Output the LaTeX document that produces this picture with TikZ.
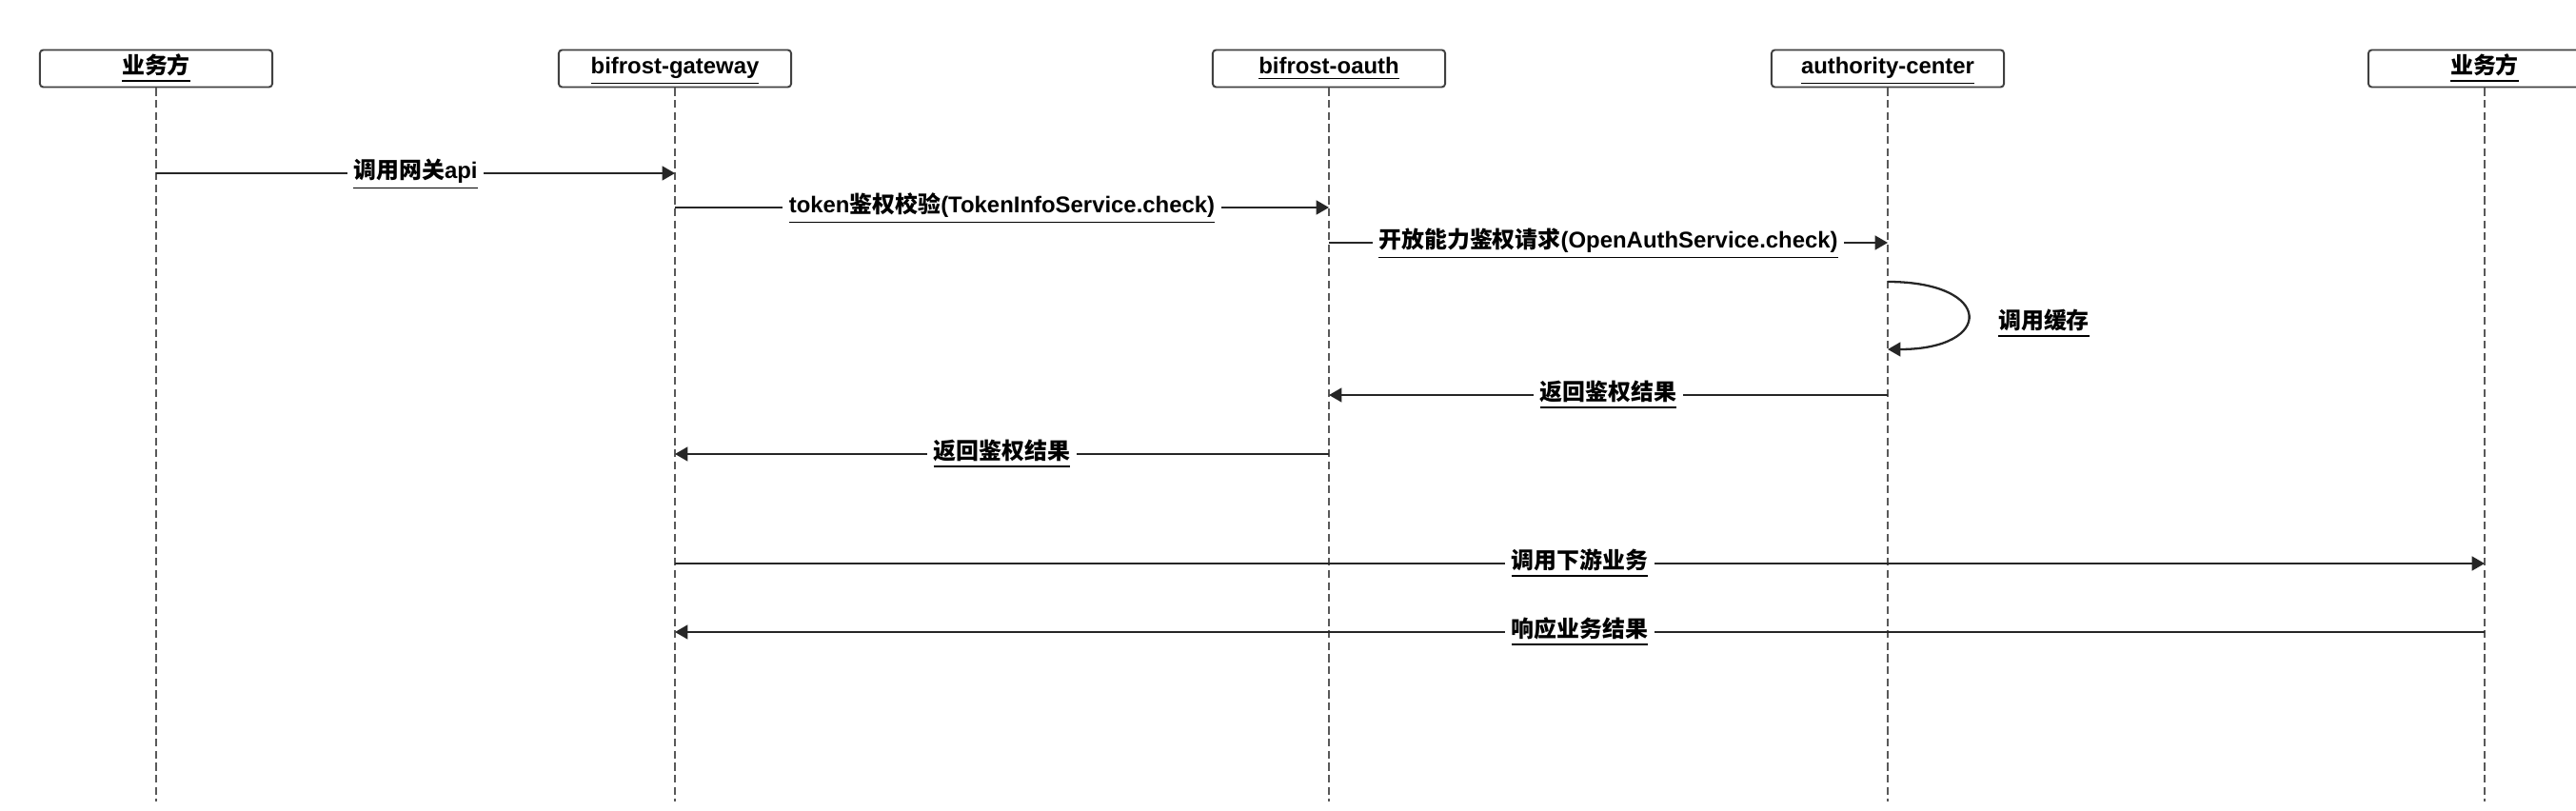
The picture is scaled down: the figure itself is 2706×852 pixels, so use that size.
\documentclass[tikz,border=0pt]{standalone}
\usepackage{fontspec}
\setmainfont{Liberation Sans}
\newfontfamily\zhfont{Noto Sans CJK SC}
\usetikzlibrary{arrows.meta}
\newcommand{\zh}[1]{{\zhfont #1}}

\begin{document}
\begin{tikzpicture}[x=0.01cm,y=-0.01cm,>={Triangle[length=3.8pt,width=4.2pt]},
	font=\fontsize{6.8pt}{8pt}\selectfont\bfseries,
	actor/.style={draw=black!75,line width=0.55pt,rounded corners=1pt,minimum width=2.44cm,minimum height=0.39cm,inner sep=0pt,fill=white,text height=5.6pt,text depth=2.4pt},
	lifeline/.style={draw=black!65,line width=0.45pt,dash pattern=on 2.3pt off 1.3pt},
	msg/.style={->,draw=black!85,line width=0.65pt},
	lbl/.style={fill=white,inner xsep=1.8pt,inner ysep=0.6pt,text height=5.6pt,text depth=2.4pt}]
	\path [use as bounding box,clip] (0,0) rectangle (2706,852);
	\fill [white] (0,0) rectangle (2706,852);
	% actors
	\node [actor] at (164,72) (ywfL) {\underline{\zh{业务方}}};
	\node [actor] at (709,72) (gateway) {\underline{bifrost-gateway}};
	\node [actor] at (1396,72) (oauth) {\underline{bifrost-oauth}};
	\node [actor] at (1983,72) (center) {\underline{authority-center}};
	\node [actor] at (2610,72) (ywfR) {\underline{\zh{业务方}}};
	\coordinate (bottom) at (0,842);
	\foreach \n in {ywfL,gateway,oauth,center,ywfR}
		\draw [lifeline] (\n.south) -- (\n.south |- bottom);
	% messages
	\draw [msg] (ywfL |- 0,182) -- node [lbl] {\underline{\zh{调用网关}api}} (gateway |- 0,182);
	\draw [msg] (gateway |- 0,218) -- node [lbl] {\underline{token\zh{鉴权校验}(TokenInfoService.check)}} (oauth |- 0,218);
	\draw [msg] (oauth |- 0,255) -- node [lbl] {\underline{\zh{开放能力鉴权请求}(OpenAuthService.check)}} (center |- 0,255);
	\draw [msg] (center |- 0,296) .. controls (2095,296) and (2095,367) .. (center |- 0,367);
	\node [lbl] at (2147,340) (cache) {\underline{\zh{调用缓存}}};
	\draw [msg] (center |- 0,415) -- node [lbl] {\underline{\zh{返回鉴权结果}}} (oauth |- 0,415);
	\draw [msg] (oauth |- 0,477) -- node [lbl] {\underline{\zh{返回鉴权结果}}} (gateway |- 0,477);
	\draw [msg] (gateway |- 0,592) -- node [lbl] {\underline{\zh{调用下游业务}}} (ywfR |- 0,592);
	\draw [msg] (ywfR |- 0,664) -- node [lbl] {\underline{\zh{响应业务结果}}} (gateway |- 0,664);
\end{tikzpicture}
\end{document}
